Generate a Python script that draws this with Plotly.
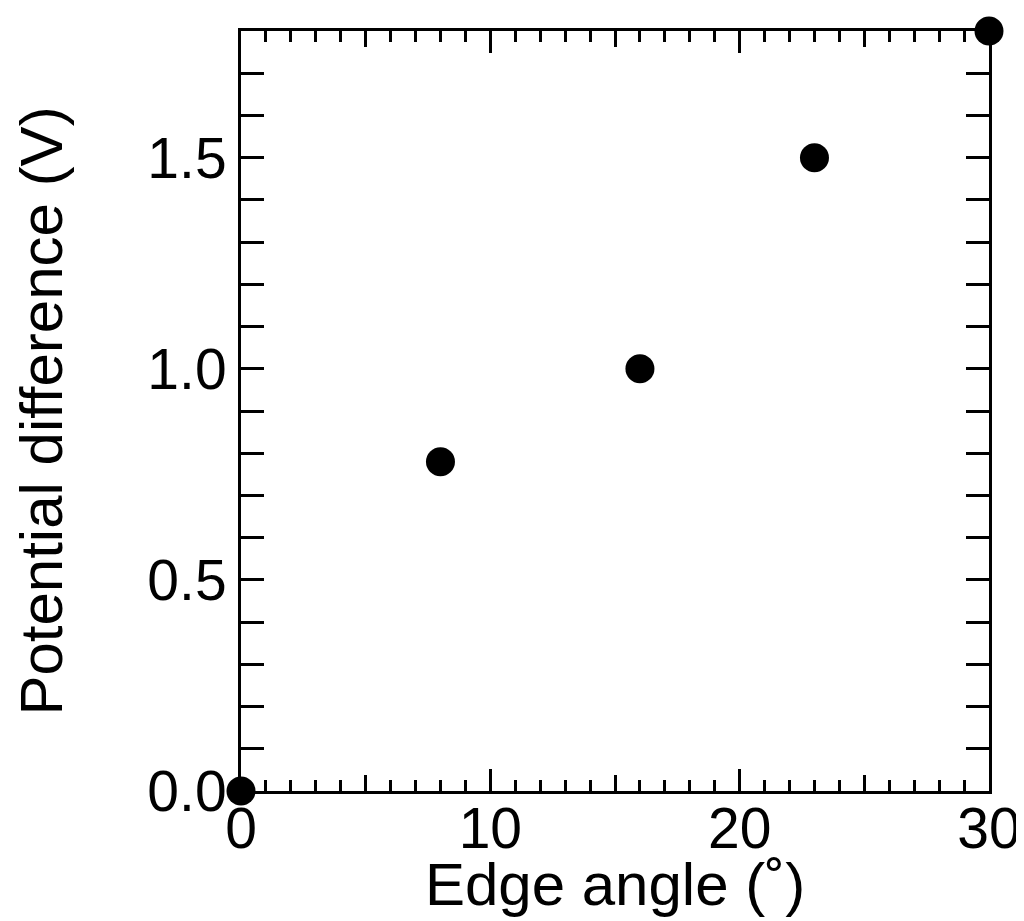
import plotly.graph_objects as go

edge_angle = [0, 8, 16, 23, 30]
potential_diff = [0.0, 0.78, 1.0, 1.5, 1.8]

x_major_ticks = [0, 10, 20, 30]
x_mid_ticks = [5, 15, 25]
y_major_ticks = [0.0, 0.5, 1.0, 1.5]
y_tick_labels = ["0.0", "0.5", "1.0", "1.5"]

FONT = "Liberation Sans, Arial, sans-serif"

fig = go.Figure()
fig.add_trace(go.Scatter(
    x=edge_angle, y=potential_diff, mode="markers",
    marker=dict(size=29, color="black", line=dict(width=0)),
    cliponaxis=False, showlegend=False,
))
# invisible trace to anchor the overlay axis that draws the mid-length ticks
fig.add_trace(go.Scatter(x=[0, 30], y=[0, 1.8], xaxis="x2", mode="markers",
                         marker=dict(opacity=0), showlegend=False, hoverinfo="skip"))

fig.update_layout(
    width=1024, height=910,
    margin=dict(l=233, r=43, t=23, b=127),
    paper_bgcolor="white", plot_bgcolor="white",
    font=dict(family=FONT, color="black", size=57),
    xaxis=dict(
        range=[0, 30], tickvals=x_major_ticks, ticks="inside", ticklen=22, tickwidth=2.5,
        tickcolor="black", showline=True, linewidth=3, linecolor="black", mirror="allticks",
        showgrid=False, zeroline=False, tickfont=dict(size=57), ticklabelstandoff=-14,
        ticklabeloverflow="allow",
        minor=dict(dtick=1, ticks="inside", ticklen=11, tickwidth=2.5, tickcolor="black", showgrid=False),
        title=dict(text="Edge angle (˚)", font=dict(size=60), standoff=4),
        automargin=False,
    ),
    xaxis2=dict(
        range=[0, 30], overlaying="x", tickvals=x_mid_ticks, ticks="inside", ticklen=16,
        tickwidth=2.5, tickcolor="black", showticklabels=False, showline=False,
        mirror="allticks", showgrid=False, zeroline=False, anchor="y", side="bottom",
    ),
    yaxis=dict(
        range=[0, 1.8], tickvals=y_major_ticks, ticktext=y_tick_labels, ticks="inside",
        ticklen=23, tickwidth=2.5, tickcolor="black", showline=True, linewidth=3,
        linecolor="black", mirror="allticks", showgrid=False, zeroline=False,
        tickfont=dict(size=57), ticklabeloverflow="allow",
        minor=dict(dtick=0.1, ticks="inside", ticklen=11, tickwidth=2.5, tickcolor="black", showgrid=False),
        title=dict(text="Potential difference (V)", font=dict(size=60), standoff=92),
        automargin=False,
    ),
)

fig.write_html("out.html")
